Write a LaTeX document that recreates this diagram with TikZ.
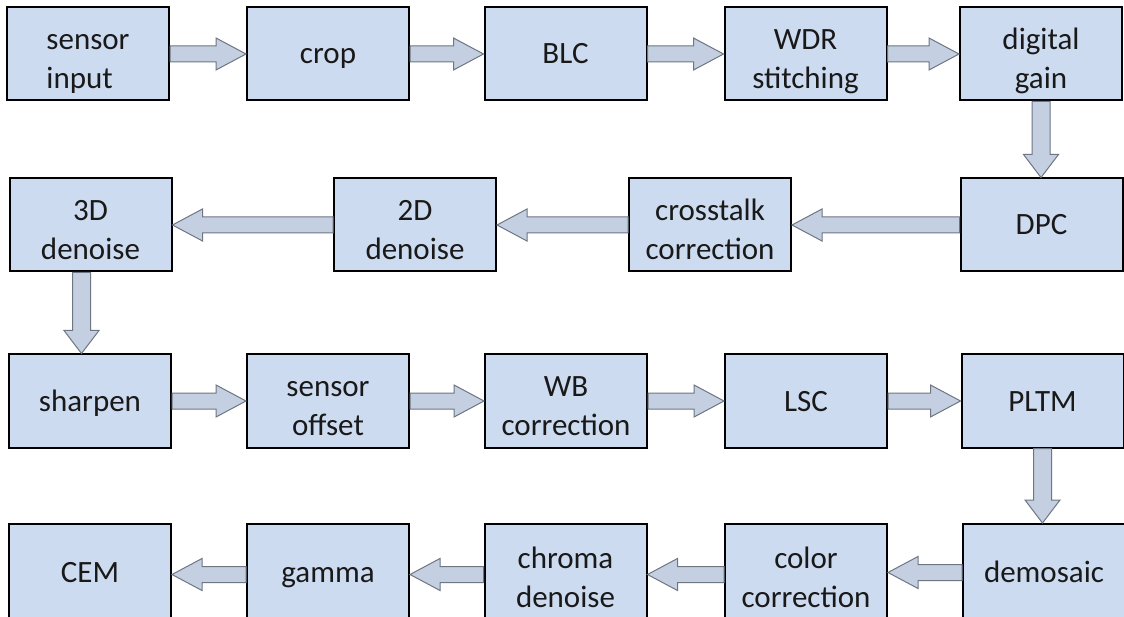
\documentclass[tikz,border=0pt]{standalone}
\usepackage{fontspec}
\setmainfont{Carlito}
\usetikzlibrary{calc}
\definecolor{boxfill}{RGB}{205,219,240}
\definecolor{arrowfill}{RGB}{196,208,226}
\definecolor{arrowline}{RGB}{110,118,130}
\definecolor{textc}{RGB}{25,25,25}
\tikzset{
  box/.style={draw=black, line width=2pt, fill=boxfill, minimum width=162pt, minimum height=93pt,
    inner sep=2pt, align=center, text=textc, font=\fontsize{31}{39}\selectfont},
  one/.style={text height=27pt, text depth=7pt},
  two/.style={text height=75pt, text depth=6pt},
  lastrow/.style={minimum height=97pt},
  hblock/.style={draw=arrowline, fill=arrowfill, line width=1pt, line join=miter,
    to path={let \p1=(\tikztostart), \p2=(\tikztotarget), \n1={ifthenelse(\x2>\x1,1,-1)} in
      (\x1,\y1+8pt) -- (\x2-\n1*30pt,\y1+8pt) -- (\x2-\n1*30pt,\y1+16pt) -- (\x2,\y1)
      -- (\x2-\n1*30pt,\y1-16pt) -- (\x2-\n1*30pt,\y1-8pt) -- (\x1,\y1-8pt) -- cycle}},
  vblock/.style={draw=arrowline, fill=arrowfill, line width=1pt, line join=miter,
    to path={let \p1=(\tikztostart), \p2=(\tikztotarget) in
      (\x1+9pt,\y1) -- (\x1+9pt,\y2+23pt) -- (\x1+17.5pt,\y2+23pt) -- (\x1,\y2)
      -- (\x1-17.5pt,\y2+23pt) -- (\x1-9pt,\y2+23pt) -- (\x1-9pt,\y1) -- cycle}}
}
\begin{document}
\begin{tikzpicture}[x=1pt, y=-1pt]
\useasboundingbox (0,0) rectangle (1124,617);
\fill[white] (0,0) rectangle (1124,617);
% row 1
\node[box, two, align=left] (sin) at (88,54) {sensor\\input};
\node[box, one] (crop) at (328,54) {crop};
\node[box, one] (blc) at (565.5,54) {BLC};
\node[box, two] (wdr) at (805.5,54) {WDR\\stitching};
\node[box, two] (dg) at (1041,54) {digital\\gain};
% row 2
\node[box, two] (d3) at (90.5,225) {3D\\denoise};
\node[box, two] (d2) at (415,225) {2D\\denoise};
\node[box, two] (ct) at (710,225) {crosstalk\\correction};
\node[box, one] (dpc) at (1041.5,225) {DPC};
% row 3
\node[box, one] (sh) at (90,401) {sharpen};
\node[box, two] (so) at (328,401) {sensor\\offset};
\node[box, two] (wb) at (566,401) {WB\\correction};
\node[box, one] (lsc) at (806,401) {LSC};
\node[box, one] (pltm) at (1042.5,401) {PLTM};
% row 4
\node[box, one, lastrow] (cem) at (90,572.5) {CEM};
\node[box, one, lastrow] (gam) at (328,572.5) {gamma};
\node[box, two, lastrow] (chr) at (565.5,572.5) {chroma\\denoise};
\node[box, two, lastrow] (cc) at (806,572.5) {color\\correction};
\node[box, one, lastrow] (dem) at (1044,572.5) {demosaic};
% arrows row 1
\draw[hblock] (sin.east) to (crop.west);
\draw[hblock] (crop.east) to (blc.west);
\draw[hblock] (blc.east) to (wdr.west);
\draw[hblock] (wdr.east) to (dg.west);
\draw[vblock] (dg.south) to (dpc.north);
% row 2
\draw[hblock] (dpc.west) to (ct.east);
\draw[hblock] (ct.west) to (d2.east);
\draw[hblock] (d2.west) to (d3.east);
\draw[vblock] ([xshift=-9pt]d3.south) to ([xshift=-9pt]sh.north);
% row 3
\draw[hblock] (sh.east) to (so.west);
\draw[hblock] (so.east) to (wb.west);
\draw[hblock] (wb.east) to (lsc.west);
\draw[hblock] (lsc.east) to (pltm.west);
\draw[vblock] (pltm.south) to (dem.north);
% row 4
\draw[hblock] (dem.west) to ([yshift=-2pt]cc.east);
\draw[hblock] ([yshift=-2pt]cc.west) to ([yshift=-2pt]chr.east);
\draw[hblock] ([yshift=-2pt]chr.west) to ([yshift=-2pt]gam.east);
\draw[hblock] ([yshift=-2pt]gam.west) to ([yshift=-2pt]cem.east);
\end{tikzpicture}
\end{document}
